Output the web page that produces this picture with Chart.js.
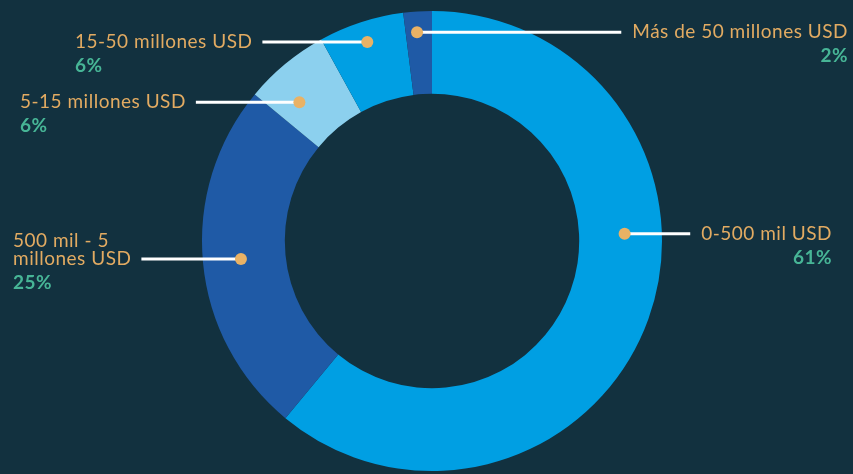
<!DOCTYPE html>
<html lang="es">
<head>
<meta charset="utf-8">
<title>Distribución por tamaño de inversión</title>
<script src="https://cdn.jsdelivr.net/npm/chart.js@4.4.1/dist/chart.umd.min.js"></script>
<style>
    html, body { margin: 0; padding: 0; background: #12313f; }
    canvas { display: block; }
</style>
</head>
<body>
<canvas id="sizeChart" width="853" height="474"></canvas>
<script>
// Ranges, clockwise from 12 o'clock
const categories = [
    ['0-500 mil USD'],
    ['500 mil - 5', 'millones USD'],
    ['5-15 millones USD'],
    ['15-50 millones USD'],
    ['Más de 50 millones USD']
];
const shares = [61, 25, 6, 6, 2];
const sliceColors = ['#009fe3', '#1f5aa6', '#8cd0ee', '#009fe3', '#1f5aa6'];

// Callout layout: which side the text sits on, its x edge, and where the dot sits on the ring
const calloutSide = ['right', 'left', 'left', 'left', 'right'];
const calloutEdge = [832, 13, 20, 75, 848];
const dotAlong = [0.40, 0.50, 0.31, 0.50, 0.43];
const dotDepth = [0.55, 0.54, 0.54, 0.75, 0.75];

const labelFont = '400 19px Lato';
const pctFont = '700 19px Lato';

const callouts = {
    id: 'callouts',
    afterDatasetsDraw(chart) {
        const ctx = chart.ctx;
        const arcs = chart.getDatasetMeta(0).data;
        ctx.save();
        ctx.letterSpacing = '0.5px';
        arcs.forEach((arc, i) => {
            const p = arc.getProps(['x', 'y', 'startAngle', 'endAngle', 'innerRadius', 'outerRadius'], true);
            const a = p.startAngle + (p.endAngle - p.startAngle) * dotAlong[i];
            const r = p.innerRadius + (p.outerRadius - p.innerRadius) * dotDepth[i];
            const dx = p.x + Math.cos(a) * r;
            const dy = p.y + Math.sin(a) * r;

            const lines = categories[i];
            ctx.font = labelFont;
            const textW = Math.max(...lines.map(t => ctx.measureText(t).width));
            const right = calloutSide[i] === 'right';
            const lineEnd = right ? calloutEdge[i] - textW - 11 : calloutEdge[i] + textW + 10;

            // leader line
            ctx.strokeStyle = '#ffffff';
            ctx.lineWidth = 3;
            ctx.beginPath();
            ctx.moveTo(dx, dy);
            ctx.lineTo(lineEnd, dy);
            ctx.stroke();

            // dot
            ctx.fillStyle = '#e9b265';
            ctx.beginPath();
            ctx.arc(dx, dy, 6, 0, Math.PI * 2);
            ctx.fill();

            // label text, last line level with the leader
            ctx.textAlign = right ? 'right' : 'left';
            ctx.textBaseline = 'middle';
            ctx.fillStyle = '#e2ab62';
            lines.forEach((t, k) => {
                ctx.fillText(t, calloutEdge[i], dy - (lines.length - 1 - k) * 18);
            });
            ctx.font = pctFont;
            ctx.fillStyle = '#47b596';
            ctx.fillText(shares[i] + '%', calloutEdge[i], dy + 24);
        });
        ctx.restore();
    }
};

new Chart(document.getElementById('sizeChart'), {
    type: 'doughnut',
    data: {
        labels: categories.map(l => l.join(' ')),
        datasets: [{
            data: shares,
            backgroundColor: sliceColors,
            borderWidth: 0
        }]
    },
    options: {
        responsive: false,
        animation: false,
        cutout: '64%',
        layout: { padding: { top: 11, bottom: 3, left: 11, right: 0 } },
        plugins: {
            legend: { display: false },
            tooltip: { enabled: false }
        }
    },
    plugins: [callouts]
});
</script>
</body>
</html>
